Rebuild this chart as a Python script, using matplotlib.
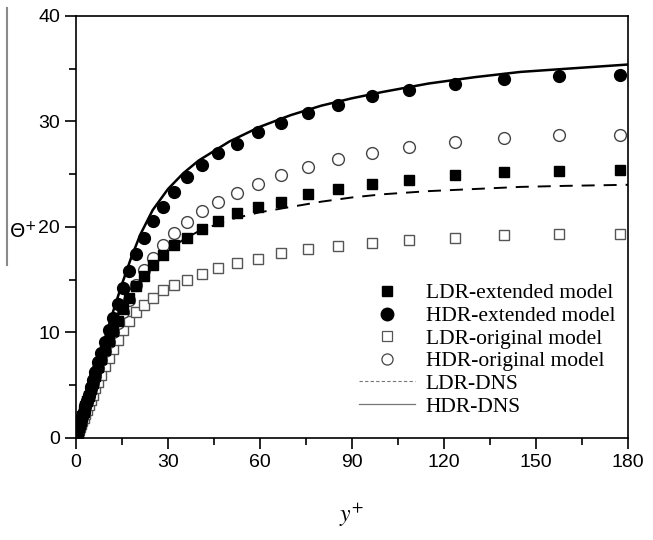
import matplotlib
matplotlib.use("Agg")
import matplotlib.pyplot as plt
from matplotlib.lines import Line2D

# y+ positions of the model points (shared by the four model series)
y_plus = [0.2, 0.4, 0.7, 1.0, 1.3, 1.7, 2.1, 2.5, 3.0, 3.5, 4.1, 4.8, 5.5, 6.3,
          7.2, 8.2, 9.3, 10.6, 12.0, 13.6, 15.4, 17.4, 19.7, 22.3, 25.2, 28.4,
          32.1, 36.3, 41.2, 46.4, 52.4, 59.2, 66.8, 75.6, 85.3, 96.4, 108.5,
          123.5, 139.5, 157.4, 177.4]

ldr_ext = [0.2, 0.4, 0.7, 1.0, 1.3, 1.7, 2.1, 2.5, 3.0, 3.5, 4.0, 4.6, 5.2, 5.9,
           6.7, 7.5, 8.3, 9.2, 10.1, 11.1, 12.2, 13.3, 14.4, 15.4, 16.4, 17.3,
           18.3, 19.0, 19.8, 20.6, 21.3, 21.9, 22.4, 23.1, 23.6, 24.1, 24.5,
           24.9, 25.2, 25.3, 25.4]
hdr_ext = [0.2, 0.4, 0.7, 1.0, 1.3, 1.7, 2.1, 2.5, 3.0, 3.5, 4.1, 4.8, 5.5, 6.3,
           7.2, 8.1, 9.1, 10.2, 11.4, 12.7, 14.2, 15.8, 17.4, 19.0, 20.6, 21.9,
           23.3, 24.7, 25.9, 27.0, 27.9, 29.0, 29.9, 30.8, 31.6, 32.4, 33.0,
           33.6, 34.0, 34.3, 34.4]
ldr_orig = [0.15, 0.3, 0.55, 0.8, 1.0, 1.3, 1.6, 1.9, 2.3, 2.7, 3.1, 3.6, 4.1,
            4.7, 5.3, 6.0, 6.8, 7.6, 8.4, 9.3, 10.2, 11.1, 11.9, 12.6, 13.3,
            14.0, 14.5, 15.0, 15.5, 16.1, 16.6, 17.0, 17.5, 17.9, 18.2, 18.5,
            18.8, 19.0, 19.2, 19.3, 19.3]
hdr_orig = [0.2, 0.4, 0.7, 1.0, 1.3, 1.7, 2.1, 2.5, 3.0, 3.5, 4.0, 4.6, 5.2, 5.9,
            6.6, 7.4, 8.2, 9.1, 10.0, 10.9, 11.9, 13.1, 14.5, 15.9, 17.1, 18.3,
            19.4, 20.5, 21.5, 22.4, 23.2, 24.1, 24.9, 25.7, 26.4, 27.0, 27.6,
            28.1, 28.4, 28.7, 28.7]

# DNS curves
dns_y = [0, 2, 4, 6, 8, 10, 12, 15, 18, 21, 25, 30, 35, 40, 50, 60, 70, 80, 90,
         100, 115, 130, 145, 160, 180]
ldr_dns = [0, 2.0, 4.0, 5.9, 7.6, 9.3, 10.8, 12.8, 14.3, 15.5, 16.6, 17.8, 18.8,
           19.6, 20.7, 21.4, 21.9, 22.4, 22.8, 23.1, 23.4, 23.6, 23.8, 23.9, 24.0]
hdr_dns = [0, 2.0, 4.0, 6.0, 8.0, 10.0, 11.9, 14.6, 17.1, 19.3, 21.6, 23.6, 25.1,
           26.3, 28.1, 29.5, 30.6, 31.5, 32.2, 32.8, 33.6, 34.2, 34.7, 35.0, 35.4]

legend_labels = ["LDR-extended model", "HDR-extended model", "LDR-original model",
                 "HDR-original model", "LDR-DNS", "HDR-DNS"]

plt.rcParams["font.family"] = ["Liberation Sans", "DejaVu Sans"]

fig = plt.figure(figsize=(6.53, 5.40), dpi=100)
ax = fig.add_axes([0.1164, 0.1889, 0.8453, 0.7815])

ax.plot(dns_y, ldr_dns, color="black", lw=1.4, dashes=(6.7, 4.6))
ax.plot(dns_y, hdr_dns, color="black", lw=1.8)
ax.plot(y_plus, ldr_orig, ls="none", marker="s", ms=7, mfc="white", mec="#555555", mew=1.0)
ax.plot(y_plus, hdr_orig, ls="none", marker="o", ms=8.5, mfc="white", mec="#444444", mew=1.0)
ax.plot(y_plus, ldr_ext, ls="none", marker="s", ms=7, color="black")
ax.plot(y_plus, hdr_ext, ls="none", marker="o", ms=8.5, color="black")

ax.set_xlim(0, 180)
ax.set_ylim(0, 40)
ax.set_xticks(range(0, 181, 30))
ax.set_xticks(range(15, 180, 30), minor=True)
ax.set_yticks(range(0, 41, 10))
ax.set_yticks(range(5, 40, 10), minor=True)
ax.tick_params(which="major", direction="out", length=8, width=1.2, labelsize=14)
ax.tick_params(which="minor", direction="out", length=5, width=1.2)
ax.tick_params(top=False, right=False)
for s in ax.spines.values():
    s.set_linewidth(1.2)

ax.set_xlabel(r"$y^{+}$", fontsize=17, math_fontfamily="stix", labelpad=22)
fig.text(0.035, 0.57, r"$\Theta^{+}$", fontsize=14, math_fontfamily="dejavusans",
         ha="center", va="center")

# stray vertical rule in the left margin of the original figure
fig.add_artist(Line2D([0.011, 0.011], [0.985, 0.51], color="#8a8a8a", lw=1.5))

handles = [
    Line2D([], [], ls="none", marker="s", ms=7, color="black"),
    Line2D([], [], ls="none", marker="o", ms=9, color="black"),
    Line2D([], [], ls="none", marker="s", ms=7, mfc="white", mec="#555555", mew=0.9),
    Line2D([], [], ls="none", marker="o", ms=8, mfc="white", mec="#444444", mew=0.9),
    Line2D([], [], color="#777777", lw=0.8, dashes=(3, 2)),
    Line2D([], [], color="#777777", lw=0.9),
]
ax.legend(handles, legend_labels, loc="upper left", bbox_to_anchor=(0.493, 0.392),
          frameon=False, borderpad=0, labelspacing=0.12, handlelength=2.6,
          handletextpad=0.5, prop={"family": "Liberation Serif", "size": 15.5})

fig.savefig("out.png", dpi=100)
